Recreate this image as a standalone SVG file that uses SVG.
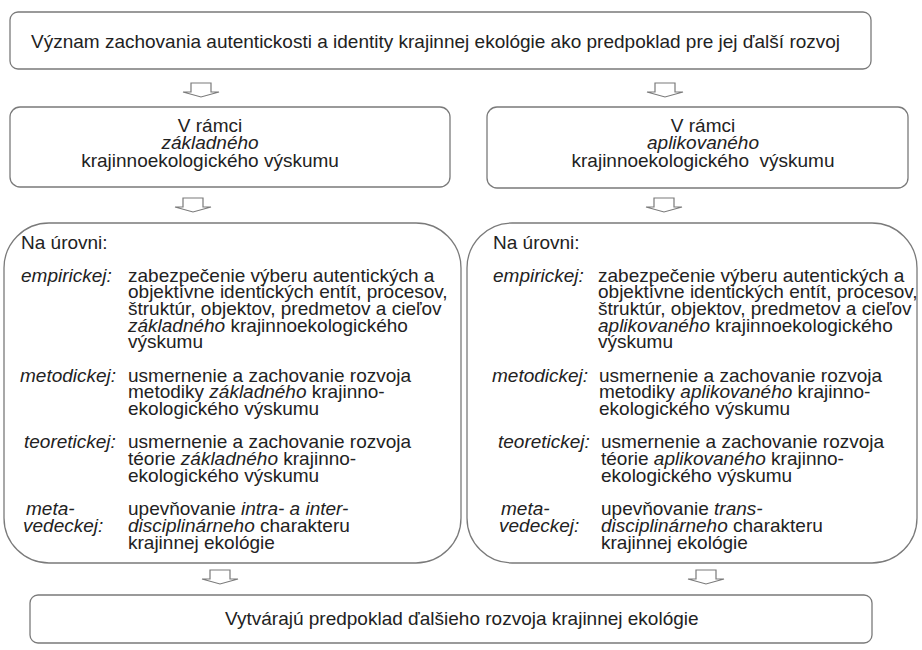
<svg xmlns="http://www.w3.org/2000/svg" width="922" height="650" viewBox="0 0 922 650">
<defs>
<style>
.box{fill:#fff;stroke:#7a7a7a;stroke-width:1.3}
.t{font-family:"Liberation Sans",Arial,sans-serif;font-size:19px;fill:#222}
.i{font-style:italic}
.c{text-anchor:middle}
.arr{fill:#fff;stroke:#7a7a7a;stroke-width:1.2;stroke-linejoin:miter}
</style>
<path id="arrow" class="arr" d="M-10,0 V9 H-18 L0,14 L18,9 H10 V0 Z"/>
</defs>
<rect width="922" height="650" fill="#fff"/>

<g id="connectors">
<use href="#arrow" x="201" y="83"/>
<use href="#arrow" x="665" y="83"/>
<use href="#arrow" x="193" y="198"/>
<use href="#arrow" x="664" y="198"/>
<use href="#arrow" x="220" y="570"/>
<use href="#arrow" x="706" y="570"/>
</g>

<g id="top">
<rect class="box" x="10" y="12" width="861" height="57" rx="8"/>
<text class="t" x="31" y="47.5">Význam zachovania autentickosti a identity krajinnej ekológie ako predpoklad pre jej ďalší rozvoj</text>
</g>

<g id="basic">
<rect class="box" x="10" y="107" width="440" height="80" rx="10"/>
<text class="t c"><tspan x="210" y="132">V rámci</tspan><tspan class="i" x="210" y="149">základného</tspan><tspan x="210" y="167">krajinnoekologického výskumu</tspan></text>
</g>

<g id="applied">
<rect class="box" x="487" y="107" width="421" height="81" rx="10"/>
<text class="t c"><tspan x="703" y="132">V rámci</tspan><tspan class="i" x="703" y="149">aplikovaného</tspan><tspan x="703" y="167">krajinnoekologického&#160; výskumu</tspan></text>
</g>

<g id="levels-basic">
<rect class="box" x="4" y="223" width="457" height="340" rx="45"/>
<text class="t" x="21" y="248.5">Na úrovni:</text>
<text class="t i" x="21" y="281.5">empirickej:</text>
<text class="t"><tspan x="128" y="281.5">zabezpečenie výberu autentických a</tspan><tspan x="128" y="298">objektívne identických entít, procesov,</tspan><tspan x="128" y="315">štruktúr, objektov, predmetov a cieľov</tspan><tspan x="128" y="331.5"><tspan class="i">základného</tspan> krajinnoekologického</tspan><tspan x="128" y="348">výskumu</tspan></text>
<text class="t i" x="20" y="381.5">metodickej:</text>
<text class="t"><tspan x="128" y="381.5">usmernenie a zachovanie rozvoja</tspan><tspan x="128" y="398">metodiky <tspan class="i">základného</tspan> krajinno-</tspan><tspan x="128" y="415">ekologického výskumu</tspan></text>
<text class="t i" x="24" y="448">teoretickej:</text>
<text class="t"><tspan x="128" y="448">usmernenie a zachovanie rozvoja</tspan><tspan x="128" y="465">téorie <tspan class="i">základného</tspan> krajinno-</tspan><tspan x="128" y="481.5">ekologického výskumu</tspan></text>
<text class="t i"><tspan x="26" y="515">meta-</tspan><tspan x="23" y="531.5">vedeckej:</tspan></text>
<text class="t"><tspan x="128" y="515">upevňovanie <tspan class="i">intra- a inter-</tspan></tspan><tspan x="128" y="531.5"><tspan class="i">disciplinárneho</tspan> charakteru</tspan><tspan x="128" y="548.5">krajinnej ekológie</tspan></text>
</g>

<g id="levels-applied">
<rect class="box" x="467" y="223" width="450" height="340" rx="45"/>
<text class="t" x="493" y="248.5">Na úrovni:</text>
<text class="t i" x="493" y="281.5">empirickej:</text>
<text class="t"><tspan x="598" y="281.5">zabezpečenie výberu autentických a</tspan><tspan x="598" y="298">objektívne identických entít, procesov,</tspan><tspan x="598" y="315">štruktúr, objektov, predmetov a cieľov</tspan><tspan x="598" y="331.5"><tspan class="i">aplikovaného</tspan> krajinnoekologického</tspan><tspan x="598" y="348">výskumu</tspan></text>
<text class="t i" x="492" y="381.5">metodickej:</text>
<text class="t"><tspan x="599" y="381.5">usmernenie a zachovanie rozvoja</tspan><tspan x="599" y="398">metodiky <tspan class="i">aplikovaného</tspan> krajinno-</tspan><tspan x="599" y="415">ekologického výskumu</tspan></text>
<text class="t i" x="498" y="448">teoretickej:</text>
<text class="t"><tspan x="601" y="448">usmernenie a zachovanie rozvoja</tspan><tspan x="601" y="465">téorie <tspan class="i">aplikovaného</tspan> krajinno-</tspan><tspan x="601" y="481.5">ekologického výskumu</tspan></text>
<text class="t i"><tspan x="501" y="515">meta-</tspan><tspan x="499" y="531.5">vedeckej:</tspan></text>
<text class="t"><tspan x="601" y="515">upevňovanie <tspan class="i">trans-</tspan></tspan><tspan x="601" y="531.5"><tspan class="i">disciplinárneho</tspan> charakteru</tspan><tspan x="601" y="548.5">krajinnej ekológie</tspan></text>
</g>

<g id="result">
<rect class="box" x="30" y="595" width="842" height="48" rx="8"/>
<text class="t" x="225" y="625">Vytvárajú predpoklad ďalšieho rozvoja krajinnej ekológie</text>
</g>
</svg>
